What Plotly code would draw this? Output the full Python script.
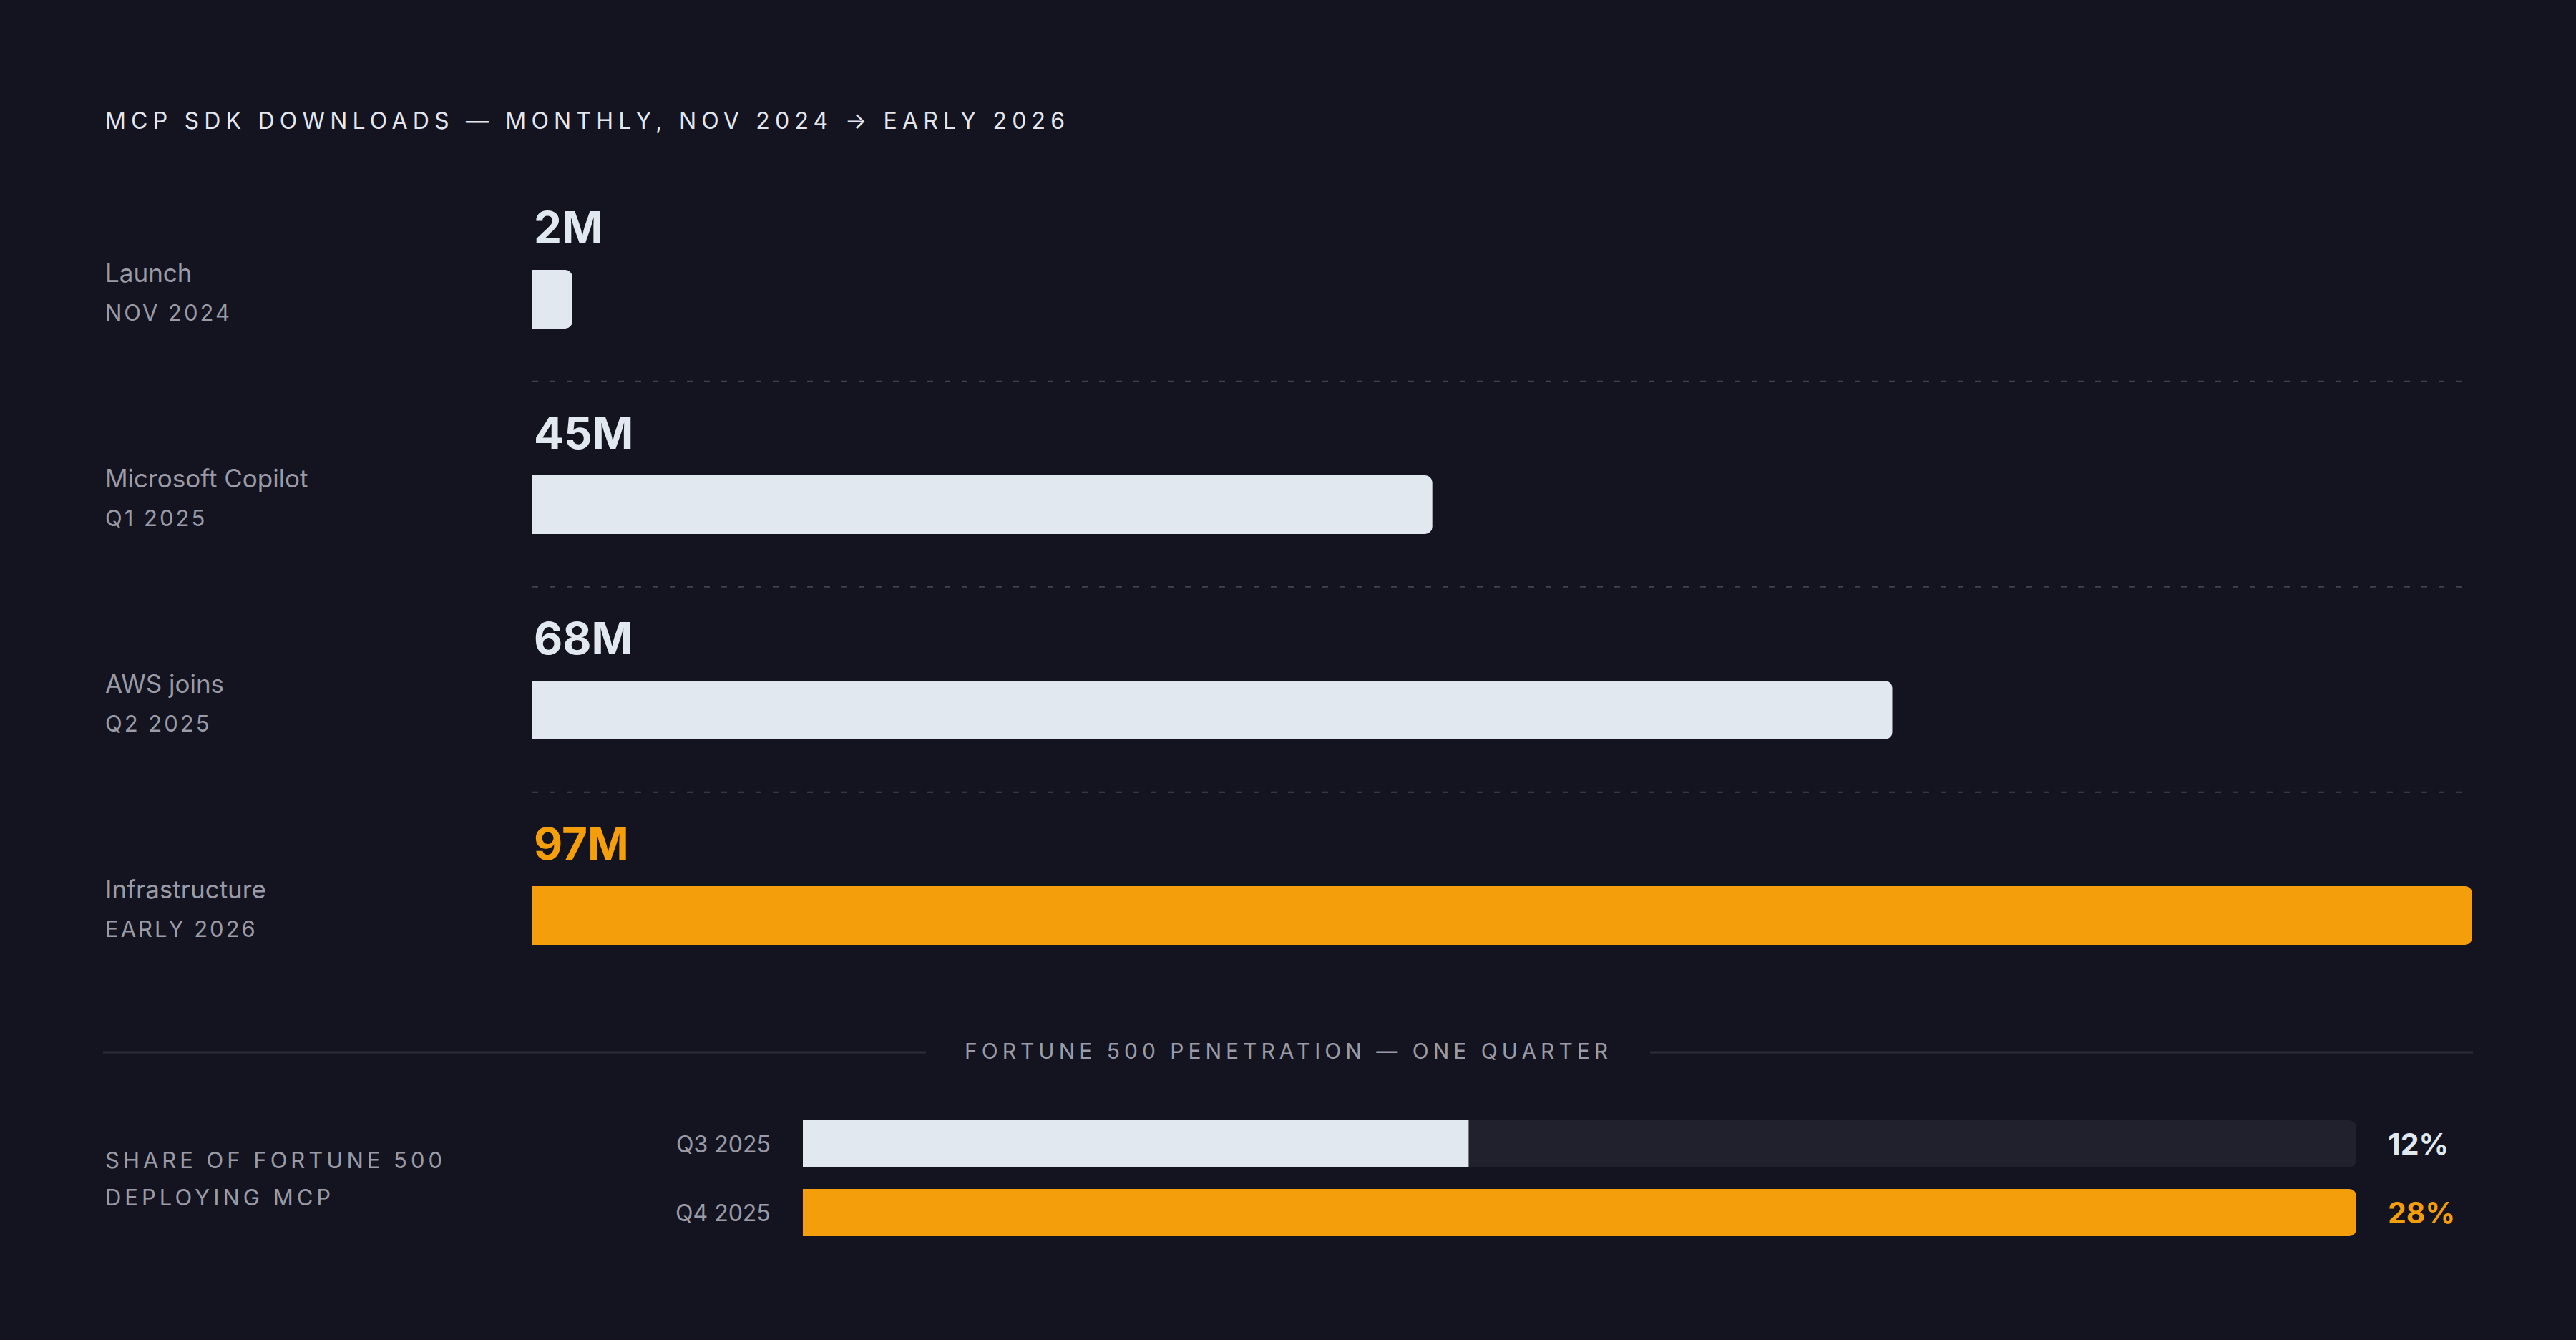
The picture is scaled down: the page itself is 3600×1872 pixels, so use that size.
import plotly.graph_objects as go

# 資料
milestones = ["Launch", "Microsoft Copilot", "AWS joins", "Infrastructure"]
periods = ["NOV 2024", "Q1 2025", "Q2 2025", "EARLY 2026"]
downloads_m = [2, 45, 68, 97]
download_labels = ["2M", "45M", "68M", "97M"]

quarters = ["Q3 2025", "Q4 2025"]
fortune_share = [12, 28]
share_labels = ["12%", "28%"]

title_text = "MCP SDK DOWNLOADS — MONTHLY, NOV 2024 → EARLY 2026"
section_text = "FORTUNE 500 PENETRATION — ONE QUARTER"
share_caption = ["SHARE OF FORTUNE 500", "DEPLOYING MCP"]

# 樣式
BG = "#13141f"
LIGHT = "#e2e8f0"
ORANGE = "#f59e0b"
GRAY = "#9a9ba6"
TRACK = "#20212c"
DASH = "#41424e"
RULE = "#2c2d39"
FONT = "Inter, Noto Sans, sans-serif"

W, H = 3600, 1872


def px(x):
    return x / W


def py(y):
    return 1 - y / H


def spaced(text, sp):
    return f"<span style='letter-spacing:{sp}px'>{text}</span>"


rows = list(range(len(milestones)))
qrows = list(range(len(quarters)))
top_colors = [ORANGE if v == max(downloads_m) else LIGHT for v in downloads_m]
share_colors = [ORANGE if v == max(fortune_share) else LIGHT for v in fortune_share]

fig = go.Figure()

# 上方下載量長條
fig.add_trace(go.Bar(
    x=downloads_m, y=rows, orientation="h", width=0.286,
    marker=dict(color=top_colors, line=dict(width=0)),
    xaxis="x", yaxis="y", hoverinfo="skip", showlegend=False,
))

# 下方 Fortune 500 長條：底軌 + 實際值
fig.add_trace(go.Bar(
    x=[max(fortune_share)] * len(quarters), y=qrows, orientation="h", width=0.69,
    marker=dict(color=TRACK, line=dict(width=0)),
    xaxis="x2", yaxis="y2", hoverinfo="skip", showlegend=False,
))
fig.add_trace(go.Bar(
    x=fortune_share, y=qrows, orientation="h", width=0.69,
    marker=dict(color=share_colors, line=dict(width=0)),
    xaxis="x2", yaxis="y2", hoverinfo="skip", showlegend=False,
))

annotations = []
shapes = []

annotations.append(dict(
    text=spaced(title_text, 7.2), xref="paper", yref="paper",
    x=px(145), y=py(168), xanchor="left", yanchor="middle", showarrow=False,
    font=dict(family=FONT, size=32, color="#e4e6ee"),
))

for i in rows:
    annotations.append(dict(
        text=milestones[i], xref="paper", yref="y", x=px(145), y=i, yshift=37,
        xanchor="left", yanchor="middle", showarrow=False,
        font=dict(family=FONT, size=35, color=GRAY),
    ))
    annotations.append(dict(
        text=spaced(periods[i], 3), xref="paper", yref="y", x=px(145), y=i, yshift=-18,
        xanchor="left", yanchor="middle", showarrow=False,
        font=dict(family=FONT, size=31, color=GRAY),
    ))
    annotations.append(dict(
        text=download_labels[i], xref="x", yref="y", x=0, y=i, yshift=101,
        xanchor="left", yanchor="middle", showarrow=False,
        font=dict(family=FONT, size=62, color=top_colors[i], weight=700),
    ))
    if i < len(rows) - 1:
        shapes.append(dict(
            type="line", xref="x domain", yref="y", x0=0, x1=0.995, y0=i + 0.4, y1=i + 0.4,
            line=dict(color=DASH, width=2, dash="8px,16px"),
        ))

# 分隔標題
shapes.append(dict(type="line", xref="paper", yref="paper", x0=px(144), x1=px(1294),
                   y0=py(1470), y1=py(1470), line=dict(color=RULE, width=3)))
shapes.append(dict(type="line", xref="paper", yref="paper", x0=px(2306), x1=px(3456),
                   y0=py(1470), y1=py(1470), line=dict(color=RULE, width=3)))
annotations.append(dict(
    text=spaced(section_text, 6), xref="paper", yref="paper", x=px(1800), y=py(1468),
    xanchor="center", yanchor="middle", showarrow=False,
    font=dict(family=FONT, size=30, color=GRAY),
))

for k, line in enumerate(share_caption):
    annotations.append(dict(
        text=spaced(line, 5), xref="paper", yref="paper", x=px(145), y=py(1620 + 52 * k),
        xanchor="left", yanchor="middle", showarrow=False,
        font=dict(family=FONT, size=31, color=GRAY),
    ))

for i in qrows:
    annotations.append(dict(
        text=quarters[i], xref="paper", yref="y2", x=px(1079), y=i,
        xanchor="right", yanchor="middle", showarrow=False,
        font=dict(family=FONT, size=32, color=GRAY),
    ))
    annotations.append(dict(
        text=share_labels[i], xref="paper", yref="y2", x=px(3335), y=i,
        xanchor="left", yanchor="middle", showarrow=False,
        font=dict(family=FONT, size=41, color=share_colors[i], weight=700),
    ))

hidden = dict(visible=False, fixedrange=True)
fig.update_layout(
    width=W, height=H,
    margin=dict(l=0, r=0, t=0, b=0),
    paper_bgcolor=BG, plot_bgcolor=BG,
    barmode="overlay", barcornerradius=10,
    xaxis=dict(domain=[px(744), px(3455)], range=[0, max(downloads_m)], anchor="y", **hidden),
    yaxis=dict(domain=[py(1422.5), py(274.5)], range=[3.5, -0.5], anchor="x", **hidden),
    xaxis2=dict(domain=[px(1122), px(3293)], range=[0, max(fortune_share)], anchor="y2", **hidden),
    yaxis2=dict(domain=[py(1742), py(1550)], range=[1.5, -0.5], anchor="x2", **hidden),
    annotations=annotations, shapes=shapes,
    showlegend=False,
)

fig.write_html(
    "out.html",
    config={"displayModeBar": False},
    post_script="document.body.style.margin='0';document.body.style.background='#13141f';",
)
